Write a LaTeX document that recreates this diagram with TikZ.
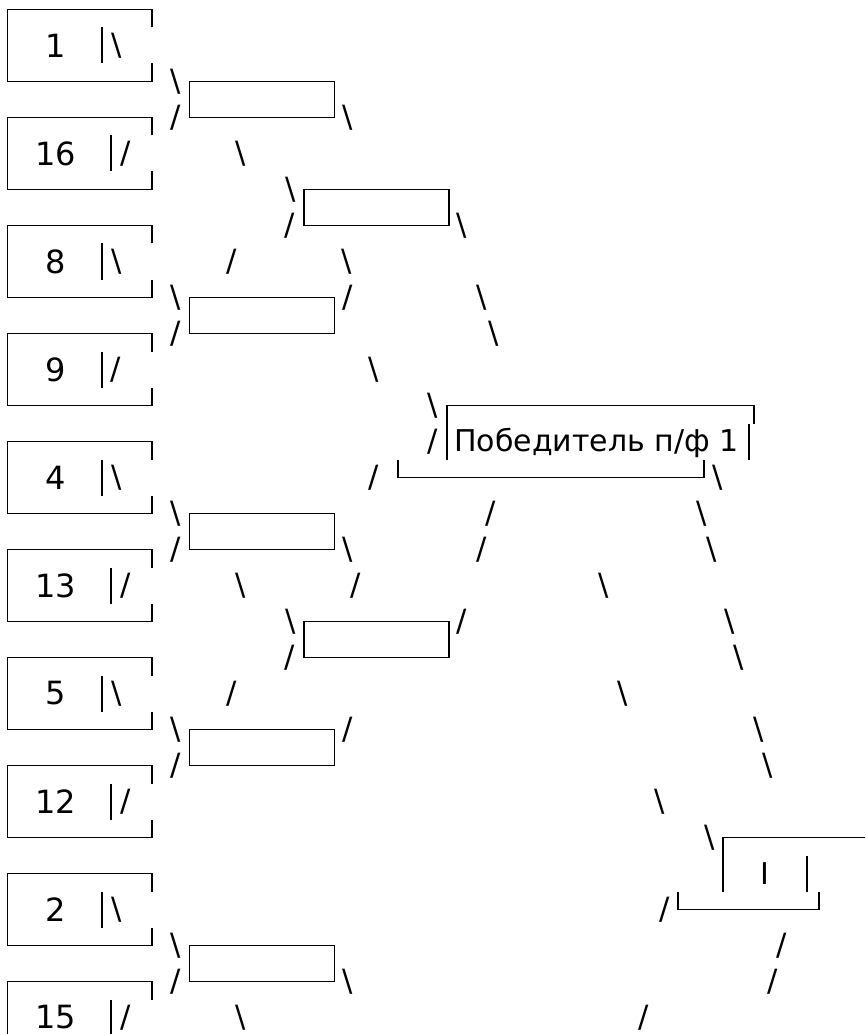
\documentclass[tikz,border=0pt]{standalone}
\usepackage{fontspec}
\setmainfont{DejaVu Sans}
\usepackage{tikz}
\newcommand{\letragrande}{\fontsize{24}{24}\selectfont}
\newcommand{\letramedia}{\fontsize{22.5}{23}\selectfont}
\newcommand{\letraraya}{\fontsize{23}{23}\selectfont}
\tikzstyle{marco} = [draw=black, line width=1.3pt]
\tikzstyle{vacio} = [marco, rectangle, minimum width=108.6pt, minimum height=27pt, inner sep=0pt]
\tikzstyle{equipo} = [inner sep=0pt, font=\letragrande]
\tikzstyle{titulo} = [inner sep=0pt, font=\letramedia]
\tikzstyle{raya} = [inner sep=0pt, font=\letraraya]
\newcommand{\caja}[4]{%
	\draw[marco] (152,#3+18) -- (152,#3) -- (7.5,#3) -- (7.5,#3+72) -- (152,#3+72) -- (152,#3+54);
	\draw[marco] (#4,#3+18) -- (#4,#3+54);
	\node[equipo] (#1) at (55.5,#3+36) {#2};}

\begin{document}
\begin{tikzpicture}[x=0.75pt, y=-0.75pt]
	\useasboundingbox (0,0) rectangle (865,1034);
	\clip (0,0) rectangle (865,1034);
	\fill[white] (0,0) rectangle (865,1034);
	\caja{e1}{1}{9.5}{102}
	\caja{e16}{16}{117.5}{111}
	\caja{e8}{8}{225.5}{102}
	\caja{e9}{9}{333.5}{102}
	\caja{e4}{4}{441.5}{102}
	\caja{e13}{13}{549.5}{111}
	\caja{e5}{5}{657.5}{102}
	\caja{e12}{12}{765.5}{111}
	\caja{e2}{2}{873.5}{102}
	\caja{e15}{15}{981.5}{111}
	\node[vacio] (o1) at (262,99.5) {};
	\node[vacio] (o2) at (262,315.5) {};
	\node[vacio] (o3) at (262,531.5) {};
	\node[vacio] (o4) at (262,747.5) {};
	\node[vacio] (o5) at (262,963.5) {};
	\node[vacio] (c1) at (376.25,207.5) {};
	\node[vacio] (c2) at (376.25,639.5) {};
	\draw[marco] (447,423.5) -- (447,405.5) -- (754,405.5) -- (754,423.5);
	\draw[marco] (447,423.5) -- (447,459.5);
	\draw[marco] (749,423.5) -- (749,459.5);
	\draw[marco] (398,459.5) -- (398,477.5) -- (704,477.5) -- (704,459.5);
	\node[titulo, anchor=base west] (pf1) at (454,451.5) {Победитель п/ф 1};
	\draw[marco] (723,855.5) -- (723,837.5) -- (870,837.5);
	\draw[marco] (723,855.5) -- (723,891.5);
	\draw[marco] (807,855.5) -- (807,891.5);
	\draw[marco] (678,891.5) -- (678,909.5) -- (819,909.5) -- (819,891.5);
	\node[titulo, anchor=base] (fin) at (765,884) {I};
	\node[raya] (d1) at (117,45.5) {\textbackslash};
	\node[raya] (d2) at (176,81.5) {\textbackslash};
	\node[raya] (d3) at (176,117.5) {/};
	\node[raya] (d4) at (348,117.5) {\textbackslash};
	\node[raya] (d5) at (126,153.5) {/};
	\node[raya] (d6) at (241,153.5) {\textbackslash};
	\node[raya] (d7) at (291,189.5) {\textbackslash};
	\node[raya] (d8) at (290,225.5) {/};
	\node[raya] (d9) at (462,225.5) {\textbackslash};
	\node[raya] (d10) at (117,261.5) {\textbackslash};
	\node[raya] (d11) at (232,261.5) {/};
	\node[raya] (d12) at (347,261.5) {\textbackslash};
	\node[raya] (d13) at (176,297.5) {\textbackslash};
	\node[raya] (d14) at (348,297.5) {/};
	\node[raya] (d15) at (482,297.5) {\textbackslash};
	\node[raya] (d16) at (176,333.5) {/};
	\node[raya] (d17) at (494,333.5) {\textbackslash};
	\node[raya] (d18) at (116,369.5) {/};
	\node[raya] (d19) at (374,369.5) {\textbackslash};
	\node[raya] (d20) at (433,405.5) {\textbackslash};
	\node[raya] (d21) at (433,441.5) {/};
	\node[raya] (d22) at (117,477.5) {\textbackslash};
	\node[raya] (d23) at (374,477.5) {/};
	\node[raya] (d24) at (718,477.5) {\textbackslash};
	\node[raya] (d25) at (176,513.5) {\textbackslash};
	\node[raya] (d26) at (491,513.5) {/};
	\node[raya] (d27) at (701.5,513.5) {\textbackslash};
	\node[raya] (d28) at (176,549.5) {/};
	\node[raya] (d29) at (348,549.5) {\textbackslash};
	\node[raya] (d30) at (482,549.5) {/};
	\node[raya] (d31) at (711.5,549.5) {\textbackslash};
	\node[raya] (d32) at (126,585.5) {/};
	\node[raya] (d33) at (241,585.5) {\textbackslash};
	\node[raya] (d34) at (356,585.5) {/};
	\node[raya] (d35) at (604,585.5) {\textbackslash};
	\node[raya] (d36) at (291,621.5) {\textbackslash};
	\node[raya] (d37) at (462,621.5) {/};
	\node[raya] (d38) at (730,621.5) {\textbackslash};
	\node[raya] (d39) at (290,657.5) {/};
	\node[raya] (d40) at (738.5,657.5) {\textbackslash};
	\node[raya] (d41) at (117,693.5) {\textbackslash};
	\node[raya] (d42) at (232,693.5) {/};
	\node[raya] (d43) at (623,693.5) {\textbackslash};
	\node[raya] (d44) at (176,729.5) {\textbackslash};
	\node[raya] (d45) at (348,729.5) {/};
	\node[raya] (d46) at (758.5,729.5) {\textbackslash};
	\node[raya] (d47) at (176,765.5) {/};
	\node[raya] (d48) at (767.5,765.5) {\textbackslash};
	\node[raya] (d49) at (126,801.5) {/};
	\node[raya] (d50) at (660,801.5) {\textbackslash};
	\node[raya] (d51) at (709.5,837.5) {\textbackslash};
	\node[raya] (d52) at (117,909.5) {\textbackslash};
	\node[raya] (d53) at (665,909.5) {/};
	\node[raya] (d54) at (176,945.5) {\textbackslash};
	\node[raya] (d55) at (782,945.5) {/};
	\node[raya] (d56) at (176,981.5) {/};
	\node[raya] (d57) at (348,981.5) {\textbackslash};
	\node[raya] (d58) at (773,981.5) {/};
	\node[raya] (d59) at (126,1017.5) {/};
	\node[raya] (d60) at (241,1017.5) {\textbackslash};
	\node[raya] (d61) at (644,1017.5) {/};
\end{tikzpicture}
\end{document}
